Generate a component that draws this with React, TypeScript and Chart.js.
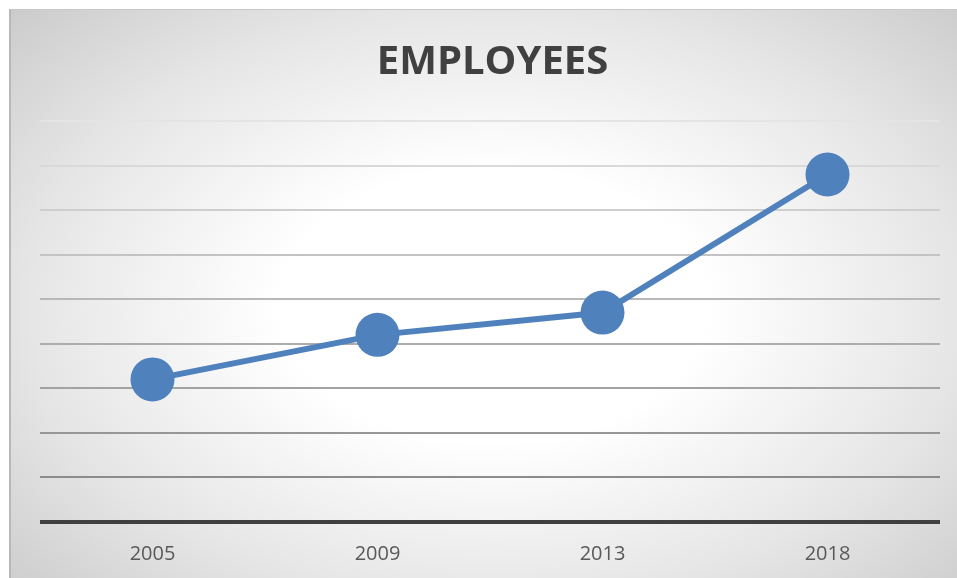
import React, { useEffect, useRef } from "react";
import { Chart, registerables } from "chart.js";

Chart.register(...registerables);

const years = ["2005", "2009", "2013", "2018"];
const employees = [3.2, 4.2, 4.7, 7.8];
const chartTitle = "EMPLOYEES";
const yMin = 0;
const yMax = 9;

export default function App() {
  const canvasRef = useRef<HTMLCanvasElement | null>(null);

  useEffect(() => {
    document.body.style.margin = "0";
    const ctx = canvasRef.current!.getContext("2d")!;
    const chart = new Chart(ctx, {
      type: "line",
      data: {
        labels: years,
        datasets: [
          {
            label: "Employees",
            data: employees,
            borderColor: "#4f81bd",
            backgroundColor: "#4f81bd",
            borderWidth: 6,
            pointRadius: 22,
            pointHoverRadius: 22,
            pointBackgroundColor: "#4f81bd",
            pointBorderColor: "#4f81bd",
            pointBorderWidth: 0,
            tension: 0,
            fill: false,
          },
        ],
      },
      options: {
        animation: false,
        responsive: false,
        maintainAspectRatio: false,
        layout: { padding: { left: 31, right: 17, top: 0, bottom: 13 } },
        plugins: {
          legend: { display: false },
          tooltip: { enabled: false },
          title: {
            display: true,
            text: chartTitle,
            color: "#404040",
            font: { family: "'Open Sans'", size: 40, weight: "bold" },
            padding: { top: 30, bottom: 34 },
          },
        },
        scales: {
          x: {
            type: "category",
            offset: true,
            grid: { display: false },
            border: { display: false },
            ticks: {
              color: "#595959",
              font: { family: "'Open Sans'", size: 20 },
              padding: 12,
            },
          },
          y: {
            min: yMin,
            max: yMax,
            ticks: { display: false, stepSize: 1 },
            border: { display: false },
            grid: {
              drawTicks: false,
              color: (c: any) => {
                const v = c.tick ? c.tick.value : 0;
                if (v === 0) return "#404040";
                const s = Math.round(0xe4 - (9 - v) * 11);
                return `rgb(${s},${s},${s})`;
              },
              lineWidth: (c: any) => (c.tick && c.tick.value === 0 ? 4 : 2),
            },
          },
        },
      },
    });
    return () => chart.destroy();
  }, []);

  return (
    <div
      style={{
        position: "fixed",
        left: 0,
        top: 0,
        width: 957,
        height: 578,
        background: "#ffffff",
        overflow: "hidden",
      }}
    >
      <div
        style={{
          position: "absolute",
          left: 9,
          top: 9,
          width: 948,
          height: 569,
          borderLeft: "2px solid #b8b8b8",
          borderTop: "1px solid #c8c8c8",
          boxSizing: "border-box",
          background:
            "radial-gradient(ellipse 75% 80% at 51% 52%, #ffffff 0%, #ffffff 30%, #e6e6e6 65%, #c6c6c6 100%)",
        }}
      />
      <canvas
        ref={canvasRef}
        width={953}
        height={582}
        style={{ position: "absolute", left: 9, top: 9, width: 953, height: 582 }}
      />
    </div>
  );
}
